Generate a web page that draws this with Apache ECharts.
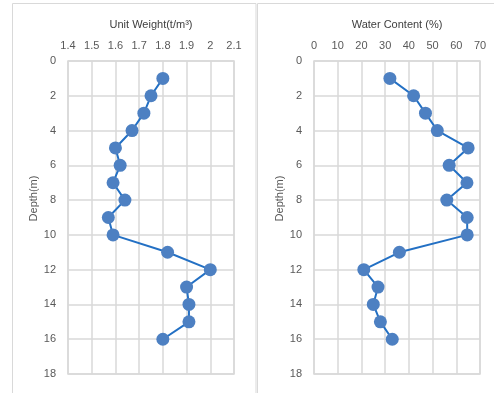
<!DOCTYPE html>
<html><head><meta charset="utf-8">
<script src="https://cdn.jsdelivr.net/npm/echarts@6/dist/echarts.min.js"></script>
<style>html,body{margin:0;padding:0;background:#fff}#c{width:494px;height:393px}</style>
</head><body><div id="c"></div>
<script>
const depths = [1,2,3,4,5,6,7,8,9,10,11,12,13,14,15,16];
const unitWeight = [1.80,1.75,1.72,1.67,1.60,1.62,1.59,1.64,1.57,1.59,1.82,2.00,1.90,1.91,1.91,1.80];
const waterContent = [32,42,47,52,65,57,64.5,56,64.6,64.6,36,21,27,25,28,33];
const titles = ['Unit Weight(t/m³)', 'Water Content (%)'];
const yTitle = 'Depth(m)';

const font = 'Liberation Sans, Arial, sans-serif';
const lbl = {color:'#595959', fontSize:11, fontFamily:font};
const grid1 = {left:68, top:61, width:166, height:313, show:true, borderColor:'#d9d9d9', borderWidth:1.5};
const grid2 = {left:314, top:61, width:166, height:313, show:true, borderColor:'#d9d9d9', borderWidth:1.5};
function xAx(i, min, max, interval, fmt){
  return {gridIndex:i, type:'value', position:'top', min, max, interval,
    axisLine:{show:false}, axisTick:{show:false},
    axisLabel:{...lbl, margin:10, formatter:fmt},
    splitLine:{lineStyle:{color:'#d9d9d9', width:1.5}},
    name:titles[i], nameLocation:'middle', nameGap:31,
    nameTextStyle:{color:'#404040', fontSize:11, fontFamily:font}};
}
function yAx(i){
  return {gridIndex:i, type:'value', inverse:true, min:0, max:18, interval:2,
    axisLine:{show:false}, axisTick:{show:false},
    axisLabel:{...lbl, margin:12},
    splitLine:{lineStyle:{color:'#d9d9d9', width:1.5}},
    name:yTitle, nameLocation:'middle', nameGap:14, nameRotate:90,
    nameTextStyle:{color:'#595959', fontSize:11, fontFamily:font, padding:[0,0,0,38]}};
}
function ser(i, xs){
  return {type:'line', xAxisIndex:i, yAxisIndex:i, data:xs.map((v,k)=>[v,depths[k]]),
    symbol:'circle', symbolSize:13, lineStyle:{color:'#2370c4', width:2},
    itemStyle:{color:'#4d80c2'}, animation:false};
}
const chart = echarts.init(document.getElementById('c'), null, {renderer:'canvas'});
chart.setOption({
  animation:false,
  grid:[grid1, grid2],
  xAxis:[xAx(0,1.4,2.1,0.1,v=>String(Math.round(v*10)/10)), xAx(1,0,70,10)],
  yAxis:[yAx(0), yAx(1)],
  series:[ser(0,unitWeight), ser(1,waterContent)],
  graphic:[
    {type:'rect', shape:{x:12.5,y:3.5,width:243.5,height:400}, style:{fill:'none', stroke:'#d9d9d9', lineWidth:1}, silent:true, z:-1},
    {type:'rect', shape:{x:257.5,y:3.5,width:250,height:400}, style:{fill:'none', stroke:'#d9d9d9', lineWidth:1}, silent:true, z:-1}
  ]
});
</script></body></html>
